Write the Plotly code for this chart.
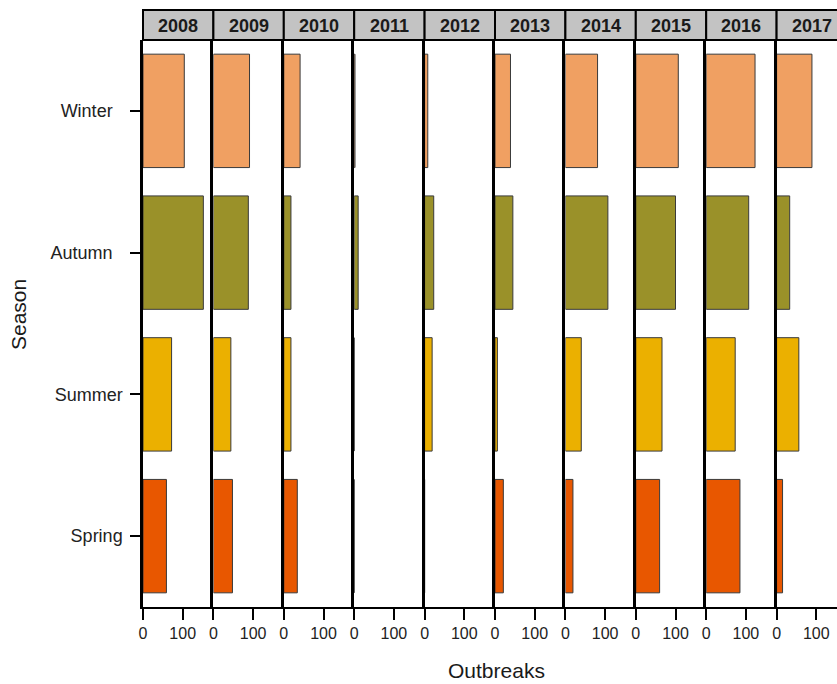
import plotly.graph_objects as go

# Outbreaks per season, faceted by year
years = ["2008", "2009", "2010", "2011", "2012", "2013", "2014", "2015", "2016", "2017"]
seasons = ["Spring", "Summer", "Autumn", "Winter"]          # bottom to top
season_labels = ["Spring", "Summer", "Autumn\u00a0\u00a0", "Winter\u00a0\u00a0"]
winter = [104, 91, 41, 2, 8, 39, 81, 107, 123, 89]
autumn = [152, 88, 18, 10, 23, 45, 107, 100, 107, 33]
summer = [72, 44, 18, 0, 19, 6, 40, 66, 73, 56]
spring = [59, 48, 34, 0, 0, 21, 19, 60, 85, 15]
season_colors = {"Spring": "#E85700", "Summer": "#EBB000", "Autumn": "#9A9129", "Winter": "#F0A062"}
x_ticks = [0, 100]

W, H = 837, 684
ML, MR, MT, MB = 143, 0, 40, 77
plot_w = W - ML - MR
plot_h = H - MT - MB
panel_px = 70.4
units_per_px = 177.3 / panel_px

font = "Liberation Sans, Arial, sans-serif"
fig = go.Figure()
layout = dict(
    width=W, height=H,
    margin=dict(l=ML, r=MR, t=MT, b=MB),
    paper_bgcolor="white", plot_bgcolor="white",
    showlegend=False, bargap=0.2,
    font=dict(family=font, color="#222222", size=16),
)

shapes = []
annotations = []
for i, yr in enumerate(years):
    left = i * panel_px
    right = min(left + panel_px, plot_w)
    d0, d1 = left / plot_w, right / plot_w
    xr = [0, (right - left) * units_per_px]
    sfx = "" if i == 0 else str(i + 1)
    vals = [spring[i], summer[i], autumn[i], winter[i]]
    fig.add_trace(go.Bar(
        x=vals, y=seasons, orientation="h",
        marker=dict(color=[season_colors[s] for s in seasons],
                    line=dict(color="#3a3a3a", width=1)),
        width=0.8,
        xaxis="x" + sfx, yaxis="y" + sfx,
    ))
    layout["xaxis" + sfx] = dict(
        domain=[d0, d1], range=xr, anchor="y" + sfx,
        tickvals=x_ticks, ticks="outside", ticklen=11, tickwidth=2, tickcolor="black",
        showline=True, linecolor="black", linewidth=2,
        showgrid=False, zeroline=False, fixedrange=True,
        tickfont=dict(size=16, color="#222222"),
    )
    ycfg = dict(
        domain=[0, 1], anchor="x" + sfx,
        type="category", categoryorder="array", categoryarray=seasons,
        range=[-0.5, 3.5],
        showline=True, linecolor="black", linewidth=2.5,
        showgrid=False, zeroline=False,
    )
    if i == 0:
        ycfg.update(tickvals=seasons, ticktext=season_labels, ticks="outside",
                    ticklen=10, tickwidth=2, tickcolor="black", ticklabelstandoff=4,
                    tickfont=dict(size=18, color="#222222"))
    else:
        ycfg.update(matches="y", showticklabels=False, ticks="")
    layout["yaxis" + sfx] = ycfg

    # facet strip
    x1 = d1 if right < plot_w else 1.03
    shapes.append(dict(type="rect", xref="paper", yref="paper",
                       x0=d0, x1=x1, y0=1, y1=1 + 30 / plot_h,
                       fillcolor="#C3C3C3", line=dict(color="black", width=2)))
    annotations.append(dict(text="<b>%s</b>" % yr, xref="paper", yref="paper",
                            x=(left + panel_px / 2) / plot_w, y=1 + 14 / plot_h,
                            xanchor="center", yanchor="middle", showarrow=False,
                            font=dict(size=18, color="#1a1a1a", family=font)))

annotations.append(dict(text="Outbreaks", xref="paper", yref="paper",
                        x=(496 - ML) / plot_w, y=-(670 - (MT + plot_h)) / plot_h,
                        xanchor="center", yanchor="middle", showarrow=False,
                        font=dict(size=21, color="#1a1a1a", family=font)))
annotations.append(dict(text="Season", xref="paper", yref="paper",
                        x=-(ML - 18) / plot_w, y=(MT + plot_h - 315) / plot_h,
                        xanchor="center", yanchor="middle", showarrow=False, textangle=-90,
                        font=dict(size=21, color="#1a1a1a", family=font)))

layout["shapes"] = shapes
layout["annotations"] = annotations
fig.update_layout(**layout)
fig.write_html("out.html")
